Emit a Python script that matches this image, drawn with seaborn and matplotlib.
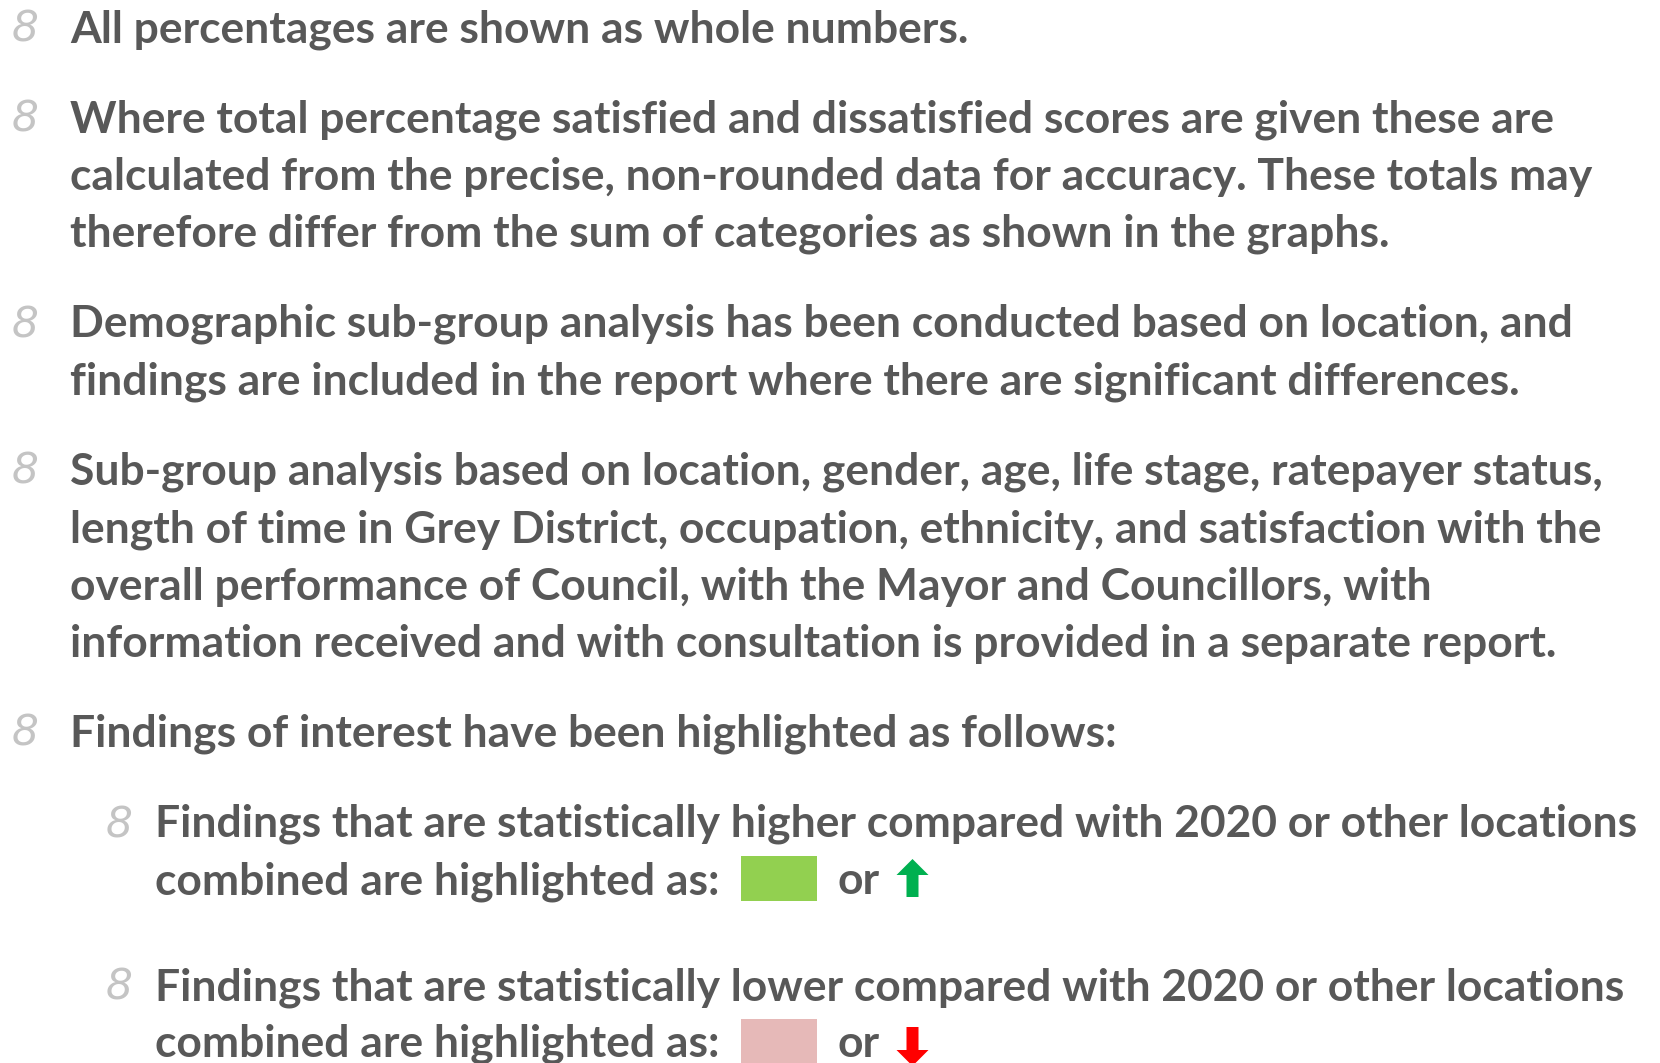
import matplotlib
matplotlib.use("Agg")
import matplotlib.pyplot as plt
import seaborn as sns
from matplotlib.patches import Rectangle, Polygon

#==================
# Slide text
#==================
main_bullets = [
    ["All percentages are shown as whole numbers."],
    ["Where total percentage satisfied and dissatisfied scores are given these are",
     "calculated from the precise, non-rounded data for accuracy. These totals may",
     "therefore differ from the sum of categories as shown in the graphs."],
    ["Demographic sub-group analysis has been conducted based on location, and",
     "findings are included in the report where there are significant differences."],
    ["Sub-group analysis based on location, gender, age, life stage, ratepayer status,",
     "length of time in Grey District, occupation, ethnicity, and satisfaction with the",
     "overall performance of Council, with the Mayor and Councillors, with",
     "information received and with consultation is provided in a separate report."],
    ["Findings of interest have been highlighted as follows:"],
]
sub_bullets = [
    ["Findings that are statistically higher compared with 2020 or other locations",
     "combined are highlighted as:"],
    ["Findings that are statistically lower compared with 2020 or other locations",
     "combined are highlighted as:"],
]
main_baselines = [[42], [132, 190, 247], [337, 394], [484, 542, 600, 657], [746]]
sub_baselines = [[837, 894], [1000, 1057]]
highlight_box = ["#92D050", "#E6B9B8"]
highlight_arrow = ["#00B050", "#FF0000"]
arrow_dir = ["up", "down"]

text_col = "#585858"
bullet_col = "#c4c4c4"

sns.set_theme(style="white")
plt.rcParams["font.family"] = ["Lato", "DejaVu Sans"]

fig = plt.figure(figsize=(16.6, 10.63), dpi=100)
ax = fig.add_axes([0, 0, 1, 1])
ax.set_xlim(0, 1660)
ax.set_ylim(1063, 0)
ax.axis("off")

# calibrate font size so the widest line fits like the original
renderer = fig.canvas.get_renderer()
probe = ax.text(0, 0, sub_bullets[0][0], fontsize=10, fontweight="bold")
w = probe.get_window_extent(renderer).width
probe.remove()
fs = 10 * 1486 / w

def bullet(x, y):
    ax.text(x, y, "8", fontsize=fs * 0.95, color=bullet_col, style="italic",
            fontweight="light", va="baseline", family=["DejaVu Sans"])

for lines, ys in zip(main_bullets, main_baselines):
    bullet(12, ys[0])
    for line, y in zip(lines, ys):
        ax.text(70, y, line, fontsize=fs, fontweight="bold", color=text_col,
                va="baseline")

for i, (lines, ys) in enumerate(zip(sub_bullets, sub_baselines)):
    bullet(106, ys[0])
    for line, y in zip(lines, ys):
        t = ax.text(155, y, line, fontsize=fs, fontweight="bold", color=text_col,
                    va="baseline")
    # colour swatch, "or", arrow after the last line
    bb = t.get_window_extent(renderer)
    x_end = bb.x1 + 21
    y_base = ys[-1]
    ax.add_patch(Rectangle((x_end, y_base - 38), 76, 45,
                           color=highlight_box[i], lw=0))
    ax.text(x_end + 97, y_base, "or", fontsize=fs, fontweight="bold",
            color=text_col, va="baseline")
    ax0 = x_end + 157
    if arrow_dir[i] == "up":
        top, bot = y_base - 35, y_base + 3
        pts = [(ax0 + 15, top), (ax0 + 31, top + 16), (ax0 + 21, top + 16),
               (ax0 + 21, bot), (ax0 + 9, bot), (ax0 + 9, top + 16),
               (ax0 - 1, top + 16)]
    else:
        top, bot = y_base - 30, y_base + 9
        pts = [(ax0 + 9, top), (ax0 + 21, top), (ax0 + 21, bot - 16),
               (ax0 + 31, bot - 16), (ax0 + 15, bot), (ax0 - 1, bot - 16),
               (ax0 + 9, bot - 16)]
    ax.add_patch(Polygon(pts, closed=True, color=highlight_arrow[i], lw=0))

fig.savefig("out.png", dpi=100, facecolor="white")
